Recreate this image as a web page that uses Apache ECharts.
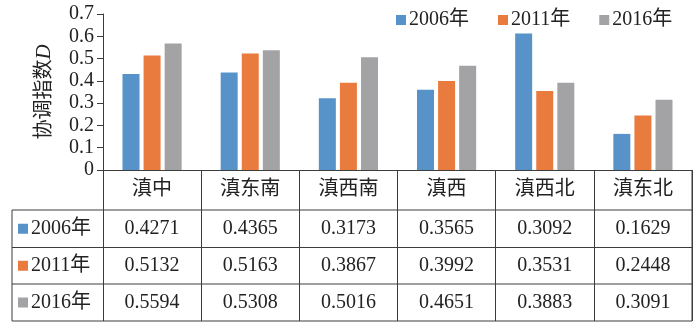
<!DOCTYPE html>
<html>
<head>
<meta charset="utf-8">
<script src="https://cdn.jsdelivr.net/npm/echarts@6/dist/echarts.min.js"></script>
<style>
html,body{margin:0;padding:0;background:#fff;}
#c{width:693px;height:322px;}
</style>
</head>
<body>
<div id="c"></div>
<script>
const categories = ['滇中', '滇东南', '滇西南', '滇西', '滇西北', '滇东北'];
const seriesNames = ['2006年', '2011年', '2016年'];
const bars2006 = [0.431, 0.438, 0.322, 0.360, 0.613, 0.162];
const bars2011 = [0.514, 0.523, 0.392, 0.399, 0.354, 0.245];
const bars2016 = [0.568, 0.537, 0.506, 0.468, 0.392, 0.315];
const table2006 = ['0.4271', '0.4365', '0.3173', '0.3565', '0.3092', '0.1629'];
const table2011 = ['0.5132', '0.5163', '0.3867', '0.3992', '0.3531', '0.2448'];
const table2016 = ['0.5594', '0.5308', '0.5016', '0.4651', '0.3883', '0.3091'];
const yMin = 0, yMax = 0.7, yStep = 0.1;

const colors = ['#5793C9', '#E97B3F', '#A3A3A6'];
const lineColor = '#3c3c3c';
const textColor = '#222';
const serif = '"Liberation Serif", "Noto Sans CJK SC", serif';

const chart = echarts.init(document.getElementById('c'), null, {renderer: 'canvas'});

const barSeries = [bars2006, bars2011, bars2016].map((d, i) => ({
  name: seriesNames[i],
  type: 'bar',
  data: d,
  barWidth: 17,
  barGap: '24%',
  itemStyle: {color: colors[i]}
}));

chart.setOption({
  animation: false,
  backgroundColor: '#fff',
  color: colors,
  textStyle: {fontFamily: serif, color: textColor},
  grid: {left: 103, right: 1, top: 14, height: 156, containLabel: false},
  legend: {
    data: seriesNames,
    left: 396, top: 10, padding: 0,
    icon: 'rect', itemWidth: 10, itemHeight: 10, itemGap: 29,
    textStyle: {fontFamily: serif, fontSize: 20, color: textColor, padding: [0, 0, 0, -2]}
  },
  xAxis: {
    type: 'category',
    data: categories,
    boundaryGap: true,
    axisLine: {lineStyle: {color: lineColor, width: 1}},
    axisTick: {show: true, alignWithLabel: false, length: 151, lineStyle: {color: lineColor, width: 1}},
    axisLabel: {fontFamily: serif, fontSize: 20, color: textColor, margin: 10}
  },
  yAxis: {
    type: 'value',
    min: yMin, max: yMax, interval: yStep,
    name: '{a|协调指数}{b|D}',
    nameLocation: 'middle', nameRotate: 90, nameGap: 48,
    nameTextStyle: {
      rich: {
        a: {fontFamily: serif, fontSize: 20, color: textColor},
        b: {fontFamily: serif, fontSize: 21, fontStyle: 'italic', color: textColor}
      }
    },
    axisLine: {show: true, lineStyle: {color: lineColor, width: 1}},
    axisTick: {show: true, length: 6, lineStyle: {color: lineColor}},
    splitLine: {show: false},
    axisLabel: {fontFamily: serif, fontSize: 20, color: textColor, margin: 9,
      formatter: v => (Math.round(v * 10) / 10).toString()}
  },
  series: barSeries
});

// data table under the plot
const tableRows = [table2006, table2011, table2016];
const tableLeft = 12, tableRight = 692;
const rowEdges = [210, 247.5, 284, 321];
const axisY = 170;
const g = [];
const ln = (x1, y1, x2, y2) => ({type: 'line', silent: true, shape: {x1, y1, x2, y2},
  style: {stroke: lineColor, lineWidth: 1}});
rowEdges.forEach(y => g.push(ln(tableLeft, y, tableRight, y)));
g.push(ln(tableLeft, rowEdges[0], tableLeft, rowEdges[3]));
g.push(ln(tableRight, axisY, tableRight, rowEdges[3]));
tableRows.forEach((row, r) => {
  const yc = (rowEdges[r] + rowEdges[r + 1]) / 2;
  g.push({type: 'rect', silent: true, shape: {x: 18, y: yc - 5, width: 10, height: 10},
    style: {fill: colors[r]}});
  g.push({type: 'text', silent: true, style: {text: seriesNames[r], x: 31, y: yc,
    textAlign: 'left', textVerticalAlign: 'middle', font: '20px ' + serif, fill: textColor}});
  row.forEach((txt, c) => {
    const xc = chart.convertToPixel({xAxisIndex: 0}, categories[c]);
    g.push({type: 'text', silent: true, style: {text: txt, x: xc, y: yc,
      textAlign: 'center', textVerticalAlign: 'middle', font: '20px ' + serif, fill: textColor}});
  });
});
chart.setOption({graphic: g});
</script>
</body>
</html>
